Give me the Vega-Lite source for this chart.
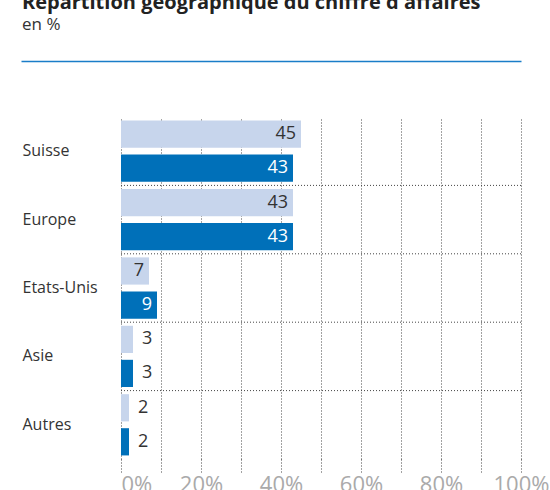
{
  "$schema": "https://vega.github.io/schema/vega-lite/v6.json",
  "width": 500,
  "height": 342,
  "autosize": {"type": "none"},
  "padding": {"left": 21, "top": 117, "right": 29, "bottom": 31},
  "background": "white",
  "config": {"view": {"stroke": null}, "font": "Open Sans"},
  "title": {
    "text": "Répartition géographique du chiffre d'affaires",
    "subtitle": "en %",
    "anchor": "start",
    "frame": "group",
    "dx": 1,
    "offset": 28,
    "font": "Open Sans",
    "fontSize": 20,
    "fontWeight": "bold",
    "color": "#222222",
    "subtitleFont": "Open Sans",
    "subtitleFontSize": 17,
    "subtitleColor": "#333333",
    "subtitlePadding": 4
  },
  "data": {
    "values": [
      {"region": "Suisse", "annee": "N-1", "value": 45},
      {"region": "Suisse", "annee": "N", "value": 43},
      {"region": "Europe", "annee": "N-1", "value": 43},
      {"region": "Europe", "annee": "N", "value": 43},
      {"region": "Etats-Unis", "annee": "N-1", "value": 7},
      {"region": "Etats-Unis", "annee": "N", "value": 9},
      {"region": "Asie", "annee": "N-1", "value": 3},
      {"region": "Asie", "annee": "N", "value": 3},
      {"region": "Autres", "annee": "N-1", "value": 2},
      {"region": "Autres", "annee": "N", "value": 2}
    ]
  },
  "layer": [
    {
      "transform": [{"filter": "datum.annee === 'N' && datum.region !== 'Suisse'"}],
      "mark": {"type": "rule", "strokeDash": [1, 2], "color": "#444444", "strokeWidth": 1},
      "encoding": {
        "x": {"datum": 0, "type": "quantitative", "axis": null},
        "x2": {"datum": 100},
        "y": {"field": "region", "type": "nominal", "bandPosition": 0, "sort": ["Suisse", "Europe", "Etats-Unis", "Asie", "Autres"]}
      }
    },
    {
      "mark": {"type": "bar"},
      "encoding": {
        "x": {
          "field": "value",
          "type": "quantitative",
          "scale": {"domain": [-25, 100], "nice": false, "zero": false},
          "axis": {
            "orient": "bottom",
            "title": null,
            "values": [0, 10, 20, 30, 40, 50, 60, 70, 80, 90, 100],
            "labelExpr": "datum.value % 20 === 0 ? datum.value + '%' : ''",
            "labelOverlap": false,
            "labelFlush": false,
            "labelAlign": {"condition": {"test": "datum.value === 0", "value": "left"}, "value": "center"},
            "labelBaseline": "alphabetic",
            "labelFont": "Open Sans",
            "labelFontSize": 22,
            "labelColor": "#aaaaaa",
            "labelPadding": 19,
            "domain": false,
            "ticks": true,
            "tickSize": 13,
            "tickDash": [1, 2],
            "tickColor": "#444444",
            "grid": true,
            "gridDash": [1, 2],
            "gridColor": "#444444",
            "gridOpacity": 1
          }
        },
        "y": {
          "field": "region",
          "type": "nominal",
          "sort": ["Suisse", "Europe", "Etats-Unis", "Asie", "Autres"],
          "scale": {"paddingInner": 0, "paddingOuter": 0},
          "axis": {
            "title": null,
            "domain": false,
            "ticks": false,
            "grid": false,
            "labelAlign": "left",
            "labelPadding": -1,
            "labelFont": "Open Sans",
            "labelFontSize": 16,
            "labelColor": "#333333"
          }
        },
        "yOffset": {
          "field": "annee",
          "sort": ["N-1", "N"],
          "scale": {"paddingInner": 0.2, "paddingOuter": 0.105}
        },
        "color": {
          "field": "annee",
          "type": "nominal",
          "scale": {"domain": ["N-1", "N"], "range": ["#c7d5ec", "#0070b9"]},
          "legend": null
        }
      }
    },
    {
      "transform": [{"filter": "datum.value >= 5"}],
      "mark": {"type": "text", "align": "right", "baseline": "middle", "dx": -5, "fontSize": 18, "font": "Open Sans"},
      "encoding": {
        "x": {"field": "value", "type": "quantitative", "axis": null},
        "y": {"field": "region", "type": "nominal", "sort": ["Suisse", "Europe", "Etats-Unis", "Asie", "Autres"]},
        "yOffset": {"field": "annee", "sort": ["N-1", "N"]},
        "text": {"field": "value", "type": "quantitative"},
        "color": {"condition": {"test": "datum.annee === 'N'", "value": "white"}, "value": "#333333"}
      }
    },
    {
      "transform": [{"filter": "datum.value < 5"}],
      "mark": {"type": "text", "align": "left", "baseline": "middle", "dx": 9, "fontSize": 18, "font": "Open Sans", "color": "#333333"},
      "encoding": {
        "x": {
          "field": "value",
          "type": "quantitative",
          "axis": {"orient": "top", "offset": 56, "title": null, "labels": false, "ticks": false, "grid": false, "domain": true, "domainColor": "#1a7dc8", "domainWidth": 1.5}
        },
        "y": {"field": "region", "type": "nominal", "sort": ["Suisse", "Europe", "Etats-Unis", "Asie", "Autres"]},
        "yOffset": {"field": "annee", "sort": ["N-1", "N"]},
        "text": {"field": "value", "type": "quantitative"}
      }
    }
  ],
  "resolve": {"axis": {"x": "independent"}}
}
